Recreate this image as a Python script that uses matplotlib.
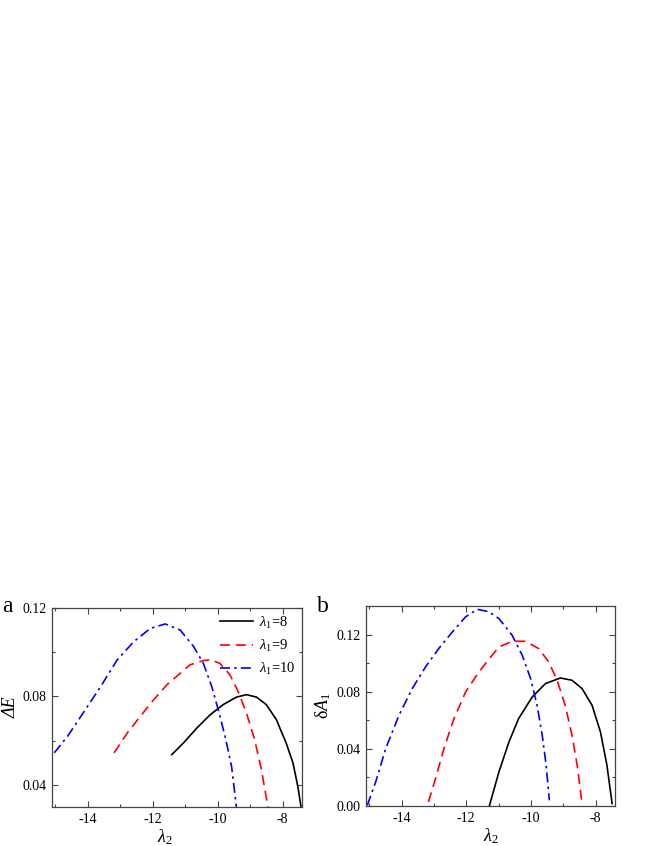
import matplotlib
matplotlib.use("Agg")
import matplotlib.pyplot as plt
from matplotlib.ticker import MultipleLocator

plt.rcParams["font.family"] = ["Liberation Serif", "DejaVu Serif"]
plt.rcParams["mathtext.fontset"] = "custom"
plt.rcParams["mathtext.rm"] = "Liberation Serif"
plt.rcParams["mathtext.it"] = "Liberation Serif:italic"
plt.rcParams["mathtext.bf"] = "Liberation Serif:bold"

# panel a: energy gap vs lambda2
a_x8 = [-11.41, -11.05, -10.64, -10.23, -9.83, -9.42, -9.11, -8.80, -8.50, -8.19, -7.89, -7.68,
        -7.53, -7.43]
a_y8 = [0.0537, 0.0590, 0.0657, 0.0717, 0.0763, 0.0797, 0.0808, 0.0797, 0.0763, 0.0695, 0.0590,
        0.0500, 0.0394, 0.0300]
a_x9 = [-13.19, -12.78, -12.38, -11.97, -11.56, -11.15, -10.85, -10.44, -10.23, -9.93, -9.62,
        -9.37, -9.11, -8.86, -8.65, -8.45]
a_y9 = [0.0545, 0.0635, 0.0710, 0.0785, 0.0853, 0.0905, 0.0943, 0.0962, 0.0966, 0.0950, 0.0898,
        0.0823, 0.0725, 0.0605, 0.0469, 0.0300]
a_x10 = [-15.03, -14.62, -14.11, -13.60, -13.09, -12.58, -12.07, -11.61, -11.15, -10.74, -10.44,
         -10.18, -9.98, -9.77, -9.57, -9.42]
a_y10 = [0.0545, 0.0620, 0.0732, 0.0845, 0.0966, 0.1048, 0.1108, 0.1128, 0.1100, 0.1026, 0.0950,
         0.0845, 0.0740, 0.0620, 0.0484, 0.0300]

# panel b: delta A1 vs lambda2
b_x8 = [-11.28, -10.99, -10.68, -10.38, -9.96, -9.55, -9.09, -8.73, -8.42, -8.11, -7.85, -7.65,
        -7.49]
b_y8 = [0.0005, 0.0238, 0.0448, 0.0612, 0.0763, 0.0857, 0.0896, 0.0880, 0.0822, 0.0705, 0.0518,
        0.0285, 0.0017]
b_x9 = [-13.17, -12.95, -12.69, -12.38, -12.02, -11.61, -11.20, -10.99, -10.58, -10.17, -9.76,
        -9.45, -9.19, -8.94, -8.73, -8.57, -8.42]
b_y9 = [0.0028, 0.0192, 0.0402, 0.0612, 0.0798, 0.0938, 0.1055, 0.1113, 0.1153, 0.1153, 0.1102,
        0.1008, 0.0880, 0.0705, 0.0495, 0.0285, 0.0017]
b_x10 = [-15.06, -14.80, -14.49, -14.08, -13.67, -13.26, -12.85, -12.43, -12.02, -11.66, -11.30,
         -10.99, -10.58, -10.27, -10.01, -9.81, -9.65, -9.53, -9.43]
b_y10 = [0.0005, 0.0168, 0.0402, 0.0635, 0.0822, 0.0973, 0.1102, 0.1218, 0.1324, 0.1377, 0.1360,
         0.1312, 0.1195, 0.1055, 0.0892, 0.0705, 0.0495, 0.0285, 0.0040]

labels = [r"$\lambda_1$=8", r"$\lambda_1$=9", r"$\lambda_1$=10"]
styles = [dict(color="black", ls="-"),
          dict(color="red", ls=(0, (6, 3.5))),
          dict(color="blue", ls=(0, (6, 2.5, 1.5, 2.5)))]

fig = plt.figure(figsize=(6.54, 8.46), dpi=100)
ax_a = fig.add_axes([0.0795, 0.0461, 0.3823, 0.2352])
ax_b = fig.add_axes([0.5596, 0.0473, 0.3808, 0.2364])

for xs, ys, lab, st in zip([a_x8, a_x9, a_x10], [a_y8, a_y9, a_y10], labels, styles):
    ax_a.plot(xs, ys, lw=1.2, label=lab, **st)
for xs, ys, st in zip([b_x8, b_x9, b_x10], [b_y8, b_y9, b_y10], styles):
    ax_b.plot(xs, ys, lw=1.2, **st)

ax_a.set_xlim(-15.1, -7.4)
ax_a.set_ylim(0.03, 0.12)
ax_a.yaxis.set_minor_locator(MultipleLocator(0.02))
ax_a.set_yticks([0.04, 0.08, 0.12])
ax_a.set_yticklabels(["0.04", "0.08", "0.12"])

ax_b.set_xlim(-15.1, -7.4)
ax_b.set_ylim(0.0, 0.14)
ax_b.yaxis.set_major_locator(MultipleLocator(0.04))
ax_b.yaxis.set_minor_locator(MultipleLocator(0.02))
ax_b.yaxis.set_major_formatter(plt.FormatStrFormatter("%.2f"))

for ax in (ax_a, ax_b):
    ax.xaxis.set_major_locator(MultipleLocator(2))
    ax.xaxis.set_minor_locator(MultipleLocator(1))
    ax.xaxis.set_major_formatter(plt.FuncFormatter(lambda v, p: "%d" % round(v)))
    ax.tick_params(which="both", direction="in", top=True, right=True,
                   labelsize=10, color="#444444", width=0.8)
    ax.tick_params(which="major", length=4.5, pad=4)
    ax.tick_params(which="minor", length=2.5)
    for sp in ax.spines.values():
        sp.set_color("#444444")
        sp.set_linewidth(0.9)
    ax.set_xlabel(r"$\lambda_2$", fontsize=13, labelpad=1)

ax_a.set_ylabel("ΔE", fontsize=13, fontstyle="italic", labelpad=2)
ax_b.set_ylabel(r"δ$A_1$", fontsize=13, labelpad=2)
ax_a.xaxis.set_label_coords(0.45, -0.1)

ax_a.legend(loc="upper right", frameon=False, fontsize=10.5, handlelength=2.3,
            handletextpad=0.4, labelspacing=0.5, borderaxespad=0.05)

fig.text(0.004, 0.2765, "a", fontsize=17, va="baseline")
fig.text(0.484, 0.2765, "b", fontsize=17, va="baseline")

fig.savefig("out.png", dpi=100)
